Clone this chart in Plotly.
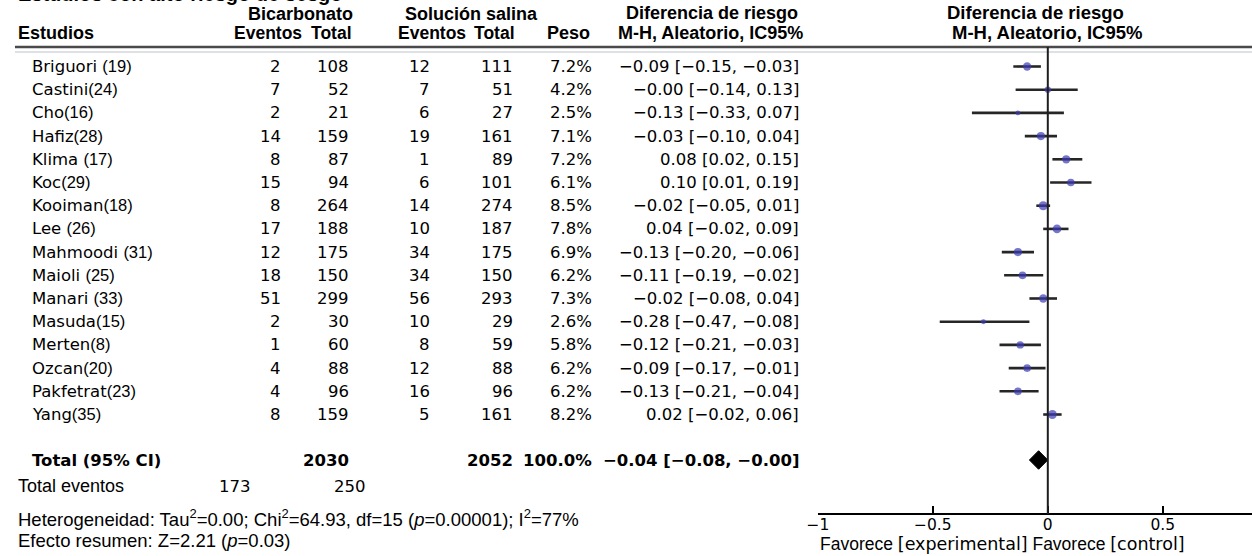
import plotly.graph_objects as go

W, H = 1252, 556

# ---- study data ----
studies = ["Briguori ", "Castini", "Cho", "Hafiz", "Klima ", "Koc", "Kooiman", "Lee ",
           "Mahmoodi ", "Maioli ", "Manari ", "Masuda", "Merten", "Ozcan", "Pakfetrat", "Yang"]
refs = [19, 24, 16, 28, 17, 29, 18, 26, 31, 25, 33, 15, 8, 20, 23, 35]
bic_events = [2, 7, 2, 14, 8, 15, 8, 17, 12, 18, 51, 2, 1, 4, 4, 8]
bic_total = [108, 52, 21, 159, 87, 94, 264, 188, 175, 150, 299, 30, 60, 88, 96, 159]
sal_events = [12, 7, 6, 19, 1, 6, 14, 10, 34, 34, 56, 10, 8, 12, 16, 5]
sal_total = [111, 51, 27, 161, 89, 101, 274, 187, 175, 150, 293, 29, 59, 88, 96, 161]
weights = [7.2, 4.2, 2.5, 7.1, 7.2, 6.1, 8.5, 7.8, 6.9, 6.2, 7.3, 2.6, 5.8, 6.2, 6.2, 8.2]
rd = [-0.09, -0.00, -0.13, -0.03, 0.08, 0.10, -0.02, 0.04, -0.13, -0.11, -0.02, -0.28,
      -0.12, -0.09, -0.13, 0.02]
ci_low = [-0.15, -0.14, -0.33, -0.10, 0.02, 0.01, -0.05, -0.02, -0.20, -0.19, -0.08,
          -0.47, -0.21, -0.17, -0.21, -0.02]
ci_high = [-0.03, 0.13, 0.07, 0.04, 0.15, 0.19, 0.01, 0.09, -0.06, -0.02, 0.04, -0.08,
           -0.03, -0.01, -0.04, 0.06]

# pooled result
total_rd = -0.04
total_low = -0.08
total_high = -0.00
total_weight = 100.0

tick_vals = [-1, -0.5, 0, 0.5]

# ---- layout helpers (pixel -> paper) ----
ROW0, DY = 66.5, 23.2          # first row centre and row pitch in px
ZERO_PX, UNIT_PX = 1046, 232   # x position of 0 and px per unit on the forest axis
AXIS_PX = 514                  # y of the forest x-axis line
RULE_PX = 47                   # y of the header rule
TOTAL_ROW = (460 - ROW0) / DY

def px(x):
    return x / W

def py(y):
    return 1 - y / H

NUM_FONT = "DejaVu Sans"
SANS = "Liberation Sans, Arial, sans-serif"
rows = list(range(len(studies)))

def fmt(v):
    return f"{v:.2f}".replace("-", "\u2212")

def rd_label(m, lo, hi):
    return f"{fmt(m)} [{fmt(lo)}, {fmt(hi)}]"

fig = go.Figure()

# confidence intervals + point estimates
fig.add_trace(go.Scatter(
    x=rd, y=rows, mode="markers",
    marker=dict(size=[9 * (w / 8.5) ** 0.5 for w in weights], color="#3a3ab4",
                symbol="circle", line=dict(width=0)),
    error_x=dict(type="data", symmetric=False,
                 array=[h - m for h, m in zip(ci_high, rd)],
                 arrayminus=[m - l for m, l in zip(rd, ci_low)],
                 color="#262626", thickness=2.6, width=0),
    hoverinfo="skip", showlegend=False,
))

# pooled diamond
half_h = 0.4
fig.add_trace(go.Scatter(
    x=[total_low, total_rd, total_high, total_rd, total_low],
    y=[TOTAL_ROW, TOTAL_ROW - half_h, TOTAL_ROW, TOTAL_ROW + half_h, TOTAL_ROW],
    mode="lines", fill="toself", fillcolor="black", line=dict(color="black", width=1),
    hoverinfo="skip", showlegend=False,
))

ann = []

def text(x, y, s, anchor="left", size=16.5, bold=False, family=NUM_FONT, yref="paper"):
    if bold:
        s = f"<b>{s}</b>"
    ann.append(dict(x=px(x), y=y, xref="paper", yref=yref, text=s, showarrow=False,
                    xanchor=anchor, yanchor="middle",
                    font=dict(family=family, size=size, color="black")))

# title running off the top edge
text(5, py(-6), "Estudios con alto riesgo de sesgo", size=20, bold=True, family=SANS)

# column headers
HB = 18
HC = 17.5
text(292, py(14), "Bicarbonato", "center", HB, True, SANS)
text(465, py(14), "Solución salina", "center", HB, True, SANS)
text(707, py(13), "Diferencia de riesgo", "center", HB, True, SANS)
text(706, py(33), "M-H, Aleatorio, IC95%", "center", HB, True, SANS)
text(1034, py(13), "Diferencia de riesgo", "center", 18.5, True, SANS)
text(1046, py(33), "M-H, Aleatorio, IC95%", "center", 18.5, True, SANS)
text(5, py(33), "Estudios", "left", HB, True, SANS)
text(296, py(33), "Eventos", "right", HC, True, SANS)
text(346, py(33), "Total", "right", HC, True, SANS)
text(461, py(33), "Eventos", "right", HC, True, SANS)
text(510, py(33), "Total", "right", HC, True, SANS)
text(586, py(33), "Peso", "right", HB, True, SANS)

# study rows
for i in rows:
    name = f"{studies[i]}<span style=\"font-family:Liberation Sans\">({refs[i]})</span>"
    text(19, i, name, "left", 16.5, False, NUM_FONT, "y")
    text(274, i, str(bic_events[i]), "right", yref="y")
    text(343, i, str(bic_total[i]), "right", yref="y")
    text(425, i, str(sal_events[i]), "right", yref="y")
    text(508, i, str(sal_total[i]), "right", yref="y")
    text(588, i, f"{weights[i]:.1f}%", "right", yref="y")
    text(797, i, rd_label(rd[i], ci_low[i], ci_high[i]), "right", yref="y")

# totals
text(19, TOTAL_ROW, "Total (95% CI)", "left", 16.5, True, NUM_FONT, "y")
text(343, TOTAL_ROW, str(sum(bic_total)), "right", 16.5, True, NUM_FONT, "y")
text(508, TOTAL_ROW, str(sum(sal_total)), "right", 16.5, True, NUM_FONT, "y")
text(588, TOTAL_ROW, f"{total_weight:.1f}%", "right", 16.5, True, NUM_FONT, "y")
text(797, TOTAL_ROW, rd_label(total_rd, total_low, total_high), "right", 16.5, True,
     NUM_FONT, "y")

text(5, py(486), "Total eventos", "left", 18, False, SANS)
text(244, py(486), str(sum(bic_events)), "right")
text(360, py(486), str(sum(sal_events)), "right")

text(5, py(518), "Heterogeneidad: Tau<sup>2</sup>=0.00; Chi<sup>2</sup>=64.93, df=15 "
     "(<i>p</i>=0.00001); I<sup>2</sup>=77%", "left", 18.5, False, SANS)
text(5, py(540), "Efecto resumen: Z=2.21 (<i>p</i>=0.03)", "left", 18.5, False, SANS)

text(814, py(544), "Favorece <span style=\"font-family:DejaVu Sans\">[experimental]</span>"
     " Favorece <span style=\"font-family:DejaVu Sans\">[control]</span>",
     "left", 17.5, False, SANS)

shapes = [
    dict(type="line", xref="paper", yref="paper", x0=px(4), x1=1,
         y0=py(RULE_PX), y1=py(RULE_PX), line=dict(color="#4a4a4a", width=2.5)),
    dict(type="line", xref="paper", yref="paper", x0=px(4), x1=1,
         y0=py(RULE_PX + 5), y1=py(RULE_PX + 5), line=dict(color="#dde1e5", width=2)),
    dict(type="line", xref="x", yref="paper", x0=0, x1=0,
         y0=py(AXIS_PX), y1=py(RULE_PX), line=dict(color="#1e1e1e", width=2)),
]

fig.update_layout(
    width=W, height=H, margin=dict(l=0, r=0, t=0, b=0),
    paper_bgcolor="white", plot_bgcolor="rgba(0,0,0,0)",
    annotations=ann, shapes=shapes,
    xaxis=dict(domain=[px(ZERO_PX - UNIT_PX), 1],
               range=[-1, (W - ZERO_PX) / UNIT_PX],
               anchor="free", position=py(AXIS_PX),
               showgrid=False, zeroline=False, showline=True,
               linecolor="black", linewidth=1.5,
               ticks="inside", ticklen=7, tickwidth=1.5, tickcolor="black",
               ticklabelstandoff=-3,
               tickvals=tick_vals, ticktext=[f"{v:g}".replace("-", "\u2212") for v in tick_vals],
               tickfont=dict(family=NUM_FONT, size=15.5, color="black")),
    yaxis=dict(domain=[0, 1], range=[(H - ROW0) / DY, -ROW0 / DY],
               visible=False, showgrid=False, zeroline=False),
)

fig.write_html("out.html")
